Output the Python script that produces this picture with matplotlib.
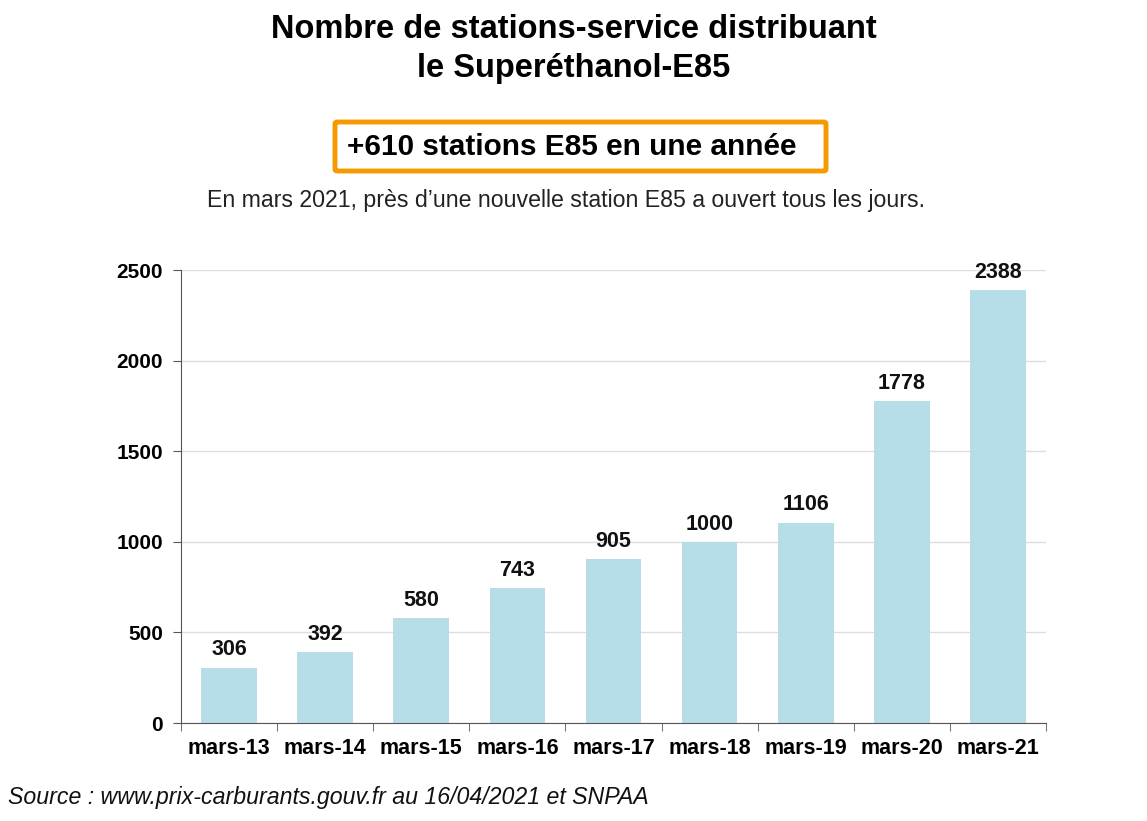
import matplotlib
matplotlib.use("Agg")
import matplotlib.pyplot as plt
import numpy as np
from matplotlib.patches import FancyBboxPatch

categories = ["mars-13", "mars-14", "mars-15", "mars-16", "mars-17",
              "mars-18", "mars-19", "mars-20", "mars-21"]
values = [306, 392, 580, 743, 905, 1000, 1106, 1778, 2388]
yticks = [0, 500, 1000, 1500, 2000, 2500]

plt.rcParams['font.family'] = ['Liberation Sans', 'DejaVu Sans']

fig = plt.figure(figsize=(11.47, 8.21), dpi=100)
ax = fig.add_axes([181/1147, 1-723/821, (1046-181)/1147, (723-270)/821])

x = np.arange(len(categories))
ax.bar(x, values, width=0.58, color='#b7dde8', zorder=2)
for xi, v in zip(x, values):
    ax.text(xi, v + 40, str(v), ha='center', va='bottom', fontsize=15.5,
            fontweight='bold', color='#111111')

ax.set_xlim(-0.5, len(categories) - 0.5)
ax.set_ylim(0, 2500)
ax.set_yticks(yticks)
ax.set_yticklabels([str(t) for t in yticks], fontsize=15, fontweight='bold')
ax.set_xticks(x)
ax.set_xticklabels(categories, fontsize=15.5, fontweight='bold')
ax.tick_params(axis='x', which='major', length=0, pad=11)
ax.set_xticks(np.arange(-0.5, len(categories), 1), minor=True)
ax.tick_params(axis='x', which='minor', length=6, color='#555555', direction='out')
ax.tick_params(axis='y', length=6, color='#555555', pad=7)
ax.grid(axis='y', color='#dddddd', linewidth=1, zorder=0)
for s in ['top', 'right']:
    ax.spines[s].set_visible(False)
ax.spines['left'].set_color('#555555')
ax.spines['bottom'].set_color('#555555')

fig.text(574/1147, 1-29/821, "Nombre de stations-service distribuant",
         ha='center', va='center', fontsize=23.5, fontweight='bold')
fig.text(574/1147, 1-69/821, "le Superéthanol-E85",
         ha='center', va='center', fontsize=23.5, fontweight='bold')

box = FancyBboxPatch((335/1147, 1-171/821), (826-335)/1147, (171-122)/821,
                     boxstyle="round,pad=0,rounding_size=0.002",
                     transform=fig.transFigure, facecolor='white',
                     edgecolor='#f59a00', linewidth=3.5)
fig.patches.append(box)
fig.text(572/1147, 1-147/821, "+610 stations E85 en une année",
         ha='center', va='center', fontsize=21.4, fontweight='bold')
fig.text(566/1147, 1-201/821,
         "En mars 2021, près d\u2019une nouvelle station E85 a ouvert tous les jours.",
         ha='center', va='center', fontsize=16.7, color='#222222')
fig.text(8/1147, 1-797/821,
         "Source : www.prix-carburants.gouv.fr au 16/04/2021 et SNPAA",
         ha='left', va='center', fontsize=16.7, style='italic', color='#111111')

fig.savefig("out.png", dpi=100)
